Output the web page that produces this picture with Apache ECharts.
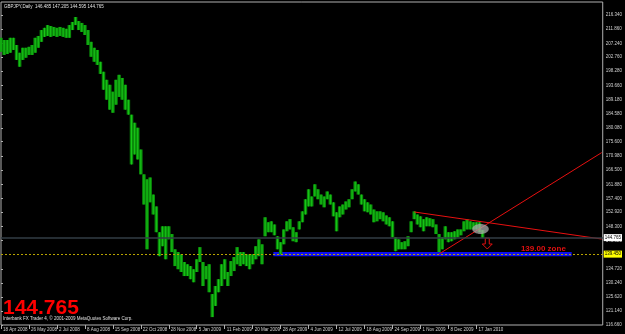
<!DOCTYPE html>
<html>
<head>
<meta charset="utf-8">
<script src="https://cdn.jsdelivr.net/npm/echarts@6/dist/echarts.min.js"></script>
<style>
  html, body { margin: 0; background: #000; }
  #chart { width: 625px; height: 334px; }
</style>
</head>
<body>
<div id="chart"></div>
<script>
const dateLabels = ["18 Apr 2008", "26 May 2008", "2 Jul 2008", "8 Aug 2008", "15 Sep 2008", "22 Oct 2008",
  "28 Nov 2008", "5 Jan 2009", "11 Feb 2009", "20 Mar 2009", "28 Apr 2009", "4 Jun 2009", "12 Jul 2009",
  "18 Aug 2009", "24 Sep 2009", "1 Nov 2009", "8 Dec 2009", "17 Jan 2010"];
const barsPerLabel = 27;

const priceTicks = [216.34, 211.86, 207.24, 202.76, 198.28, 193.66, 189.18, 184.58, 180.08, 175.6, 170.98,
  166.5, 161.88, 157.4, 152.92, 148.3, 143.82, 139.34, 134.72, 130.24, 125.62, 121.14, 116.66];

// one sample every 3 daily bars
const barStep = 3;
const highs = [
  209.0, 208.3, 208.3, 209.0, 209.0, 206.7, 204.2, 205.8, 205.8, 206.1,
  206.7, 209.0, 209.6, 211.5, 212.2, 213.1, 212.8, 212.5, 212.2, 212.5,
  212.2, 211.9, 213.1, 214.1, 215.7, 214.4, 213.8, 213.1, 211.5, 207.7,
  205.8, 205.1, 201.3, 198.1, 195.5, 193.9, 191.7, 195.5, 197.1, 196.1,
  193.9, 189.1, 184.3, 181.7, 180.1, 173.1, 165.1, 163.5, 164.1, 158.6,
  154.8, 146.5, 148.4, 148.4, 148.4, 145.9, 141.0, 140.1, 139.4, 136.9,
  136.2, 135.6, 134.6, 137.8, 141.7, 136.9, 135.6, 136.2, 126.6, 129.2,
  131.4, 136.2, 137.8, 133.7, 137.2, 138.5, 141.7, 140.1, 140.1, 139.4,
  139.4, 139.4, 142.0, 144.2, 142.6, 151.3, 149.7, 150.0, 149.0, 145.2,
  143.3, 147.4, 150.0, 150.7, 148.1, 146.5, 150.0, 153.2, 157.1, 160.3,
  158.0, 161.9, 160.3, 158.6, 158.0, 159.6, 158.6, 156.1, 152.9, 154.8,
  155.4, 156.4, 157.1, 160.3, 162.8, 161.9, 158.6, 157.1, 156.1, 155.4,
  153.8, 153.2, 153.2, 152.9, 151.9, 151.3, 150.0, 144.9, 144.2, 143.3,
  143.6, 145.2, 150.0, 153.2, 152.2, 151.6, 150.7, 151.3, 151.0, 150.7,
  149.0, 145.9, 144.9, 148.4, 146.5, 146.5, 146.8, 147.4, 147.4, 150.0,
  150.7, 150.0, 149.7, 149.7, 149.7, 147.2
];
const lows = [
  204.5, 203.5, 203.8, 204.2, 205.1, 201.9, 199.7, 201.9, 202.6, 203.5,
  203.5, 204.2, 205.8, 207.7, 209.3, 209.6, 209.3, 209.6, 209.3, 209.6,
  209.3, 209.0, 209.0, 211.5, 213.1, 211.5, 210.9, 209.9, 206.7, 202.9,
  201.3, 200.3, 197.4, 192.3, 189.1, 185.9, 184.9, 187.5, 190.0, 189.1,
  185.9, 184.3, 168.3, 171.5, 169.9, 165.1, 155.4, 141.0, 156.1, 152.2,
  146.5, 138.8, 142.0, 137.8, 144.2, 140.1, 135.6, 134.6, 133.7, 132.4,
  132.4, 131.4, 130.4, 133.7, 136.9, 129.2, 131.4, 127.2, 119.2, 122.8,
  127.2, 129.2, 131.4, 129.2, 132.4, 134.0, 136.2, 135.6, 136.2, 135.6,
  134.6, 136.2, 137.8, 138.8, 136.2, 145.2, 146.5, 146.5, 145.5, 141.0,
  139.4, 142.6, 146.8, 147.4, 143.6, 143.3, 147.4, 149.7, 152.2, 154.8,
  154.8, 158.0, 157.1, 155.4, 154.5, 157.1, 155.4, 151.6, 146.8, 151.3,
  152.2, 153.8, 154.5, 157.1, 159.6, 158.6, 155.4, 153.2, 152.9, 152.2,
  149.7, 150.0, 150.7, 150.0, 149.0, 148.4, 144.9, 140.4, 141.0, 141.0,
  141.0, 142.0, 146.5, 150.7, 149.0, 148.1, 146.8, 148.4, 148.4, 148.1,
  145.9, 140.1, 141.0, 144.2, 143.3, 143.6, 144.2, 144.9, 145.5, 146.8,
  147.4, 147.4, 147.4, 147.4, 146.5, 144.6
];

const bidPrice = 144.765;
const alertPrice = 139.45;
const trendDown = [[399, 153.0], [580, 144.3]];
const trendUp = [[423, 139.5], [580, 172.1]];
const zone = [263, 551, 138.8, 140.1]; // from bar, to bar, low, high
const zoneText = [502, 139.9];
const highlight = [463, 147.5, 8, 1.6]; // centre bar, centre price, radius in bars, radius in price
const arrow = [469.5, 144.6, 141.1]; // bar, top price, tip price

const chart = echarts.init(document.getElementById("chart"));
const font = "Liberation Sans, Arial, sans-serif";

function renderBar(params, api) {
  const top = api.coord([api.value(0), api.value(1)]);
  const bottom = api.coord([api.value(0), api.value(2)]);
  const w = api.size([barStep, 0])[0];
  const h = Math.max(1, bottom[1] - top[1]);
  return {
    type: "group",
    children: [
      {
        type: "rect",
        shape: { x: top[0] - w / 2 - 0.2, y: top[1], width: w + 0.4, height: h },
        style: { fill: "#0a8c0a" },
      },
      {
        type: "rect",
        shape: { x: top[0] - 0.5, y: top[1], width: 1, height: h },
        style: { fill: "#18c818" },
      },
    ],
  };
}

function renderZone(params, api) {
  const a = api.coord([zone[0], zone[3]]);
  const b = api.coord([zone[1], zone[2]]);
  return {
    type: "group",
    children: [
      { type: "rect", shape: { x: a[0], y: a[1], width: b[0] - a[0], height: b[1] - a[1] }, style: { fill: "#1010f0" } },
      {
        type: "text",
        position: api.coord(zoneText),
        style: { text: "139.00 zone", fill: "#e01010", font: "bold 8px " + font, textVerticalAlign: "bottom" },
      },
    ],
  };
}

function renderHighlight(params, api) {
  const c = api.coord([highlight[0], highlight[1]]);
  const s = api.size([highlight[2], highlight[3]]);
  return {
    type: "ellipse",
    shape: { cx: c[0], cy: c[1], rx: s[0], ry: s[1] },
    style: { fill: "rgba(170,170,170,0.75)" },
  };
}

function renderArrow(params, api) {
  const t = api.coord([arrow[0], arrow[1]]);
  const b = api.coord([arrow[0], arrow[2]]);
  const x = t[0];
  const neck = b[1] - 5;
  return {
    type: "polygon",
    shape: {
      points: [[x - 2, t[1]], [x + 2, t[1]], [x + 2, neck], [x + 5, neck], [x, b[1]], [x - 5, neck], [x - 2, neck]],
    },
    style: { fill: "none", stroke: "#e01010", lineWidth: 1 },
  };
}

chart.setOption({
  backgroundColor: "#000000",
  animation: false,
  grid: { left: 1, right: 16, top: 2, bottom: 9, show: true, borderColor: "#b0b0b0", borderWidth: 1 },
  xAxis: {
    type: "value",
    min: 0,
    max: 581,
    axisLine: { show: false },
    splitLine: { show: false },
    axisTick: {
      customValues: dateLabels.map((d, i) => i * barsPerLabel),
      length: 4,
      lineStyle: { color: "#b0b0b0" },
    },
    axisLabel: {
      customValues: dateLabels.map((d, i) => i * barsPerLabel),
      formatter: (v) => dateLabels[Math.round(v / barsPerLabel)] || "",
      color: "#d0d0d0",
      fontSize: 4.5,
      fontFamily: font,
      align: "left",
      margin: 2,
      padding: [0, 0, 0, 2],
    },
  },
  yAxis: {
    type: "value",
    position: "right",
    min: 116.66,
    max: 220.52,
    axisLine: { show: false },
    splitLine: { show: false },
    axisTick: { customValues: priceTicks, length: 2, lineStyle: { color: "#b0b0b0" } },
    axisLabel: {
      customValues: priceTicks,
      formatter: (v) => v.toFixed(3),
      color: "#d0d0d0",
      fontSize: 4.5,
      fontFamily: font,
      margin: 3,
    },
  },
  graphic: [
    {
      type: "text",
      left: 4,
      top: 4,
      style: { text: "GBPJPY,Daily  146.485 147.205 144.595 144.765", fill: "#e0e0e0", font: "4.5px " + font },
    },
    {
      type: "text",
      x: 3,
      y: 319,
      style: { text: "144.765", fill: "#ff0000", font: "bold 21px " + font, textVerticalAlign: "bottom" },
    },
    {
      type: "text",
      x: 3,
      y: 321,
      style: {
        text: "Interbank FX Trader 4, \u00a9 2001-2009 MetaQuotes Software Corp.",
        fill: "#e0e0e0",
        font: "4.5px " + font,
        textVerticalAlign: "bottom",
      },
    },
  ],
  series: [
    {
      type: "custom",
      name: "zone",
      renderItem: renderZone,
      data: [[zone[0], zone[2]]],
      z: 1,
      silent: true,
    },
    {
      type: "custom",
      name: "GBPJPY",
      renderItem: renderBar,
      data: highs.map((h, i) => [i * barStep, h, lows[i]]),
      encode: { x: 0, y: [1, 2] },
      z: 2,
      markLine: {
        silent: true,
        symbol: "none",
        data: [
          {
            yAxis: bidPrice,
            lineStyle: { color: "#323c44", width: 1.5, type: "solid" },
            label: { position: "end", formatter: bidPrice.toFixed(3), backgroundColor: "#ffffff", color: "#000", fontSize: 4.5, padding: [1, 1], distance: 1 },
          },
          {
            yAxis: alertPrice,
            lineStyle: { color: "#b8a400", width: 1, type: [2, 2] },
            label: { position: "end", formatter: alertPrice.toFixed(3), backgroundColor: "#ffff00", color: "#000", fontSize: 4.5, padding: [1, 1], distance: 1 },
          },
        ],
      },
    },
    {
      type: "line",
      data: trendDown,
      symbol: "none",
      lineStyle: { color: "#e81010", width: 1 },
      z: 3,
    },
    {
      type: "line",
      data: trendUp,
      symbol: "none",
      lineStyle: { color: "#e81010", width: 1 },
      z: 3,
    },
    {
      type: "custom",
      renderItem: renderHighlight,
      data: [highlight],
      z: 4,
      silent: true,
    },
    {
      type: "custom",
      renderItem: renderArrow,
      data: [arrow],
      z: 4,
      silent: true,
    },
  ],
});
</script>
</body>
</html>
